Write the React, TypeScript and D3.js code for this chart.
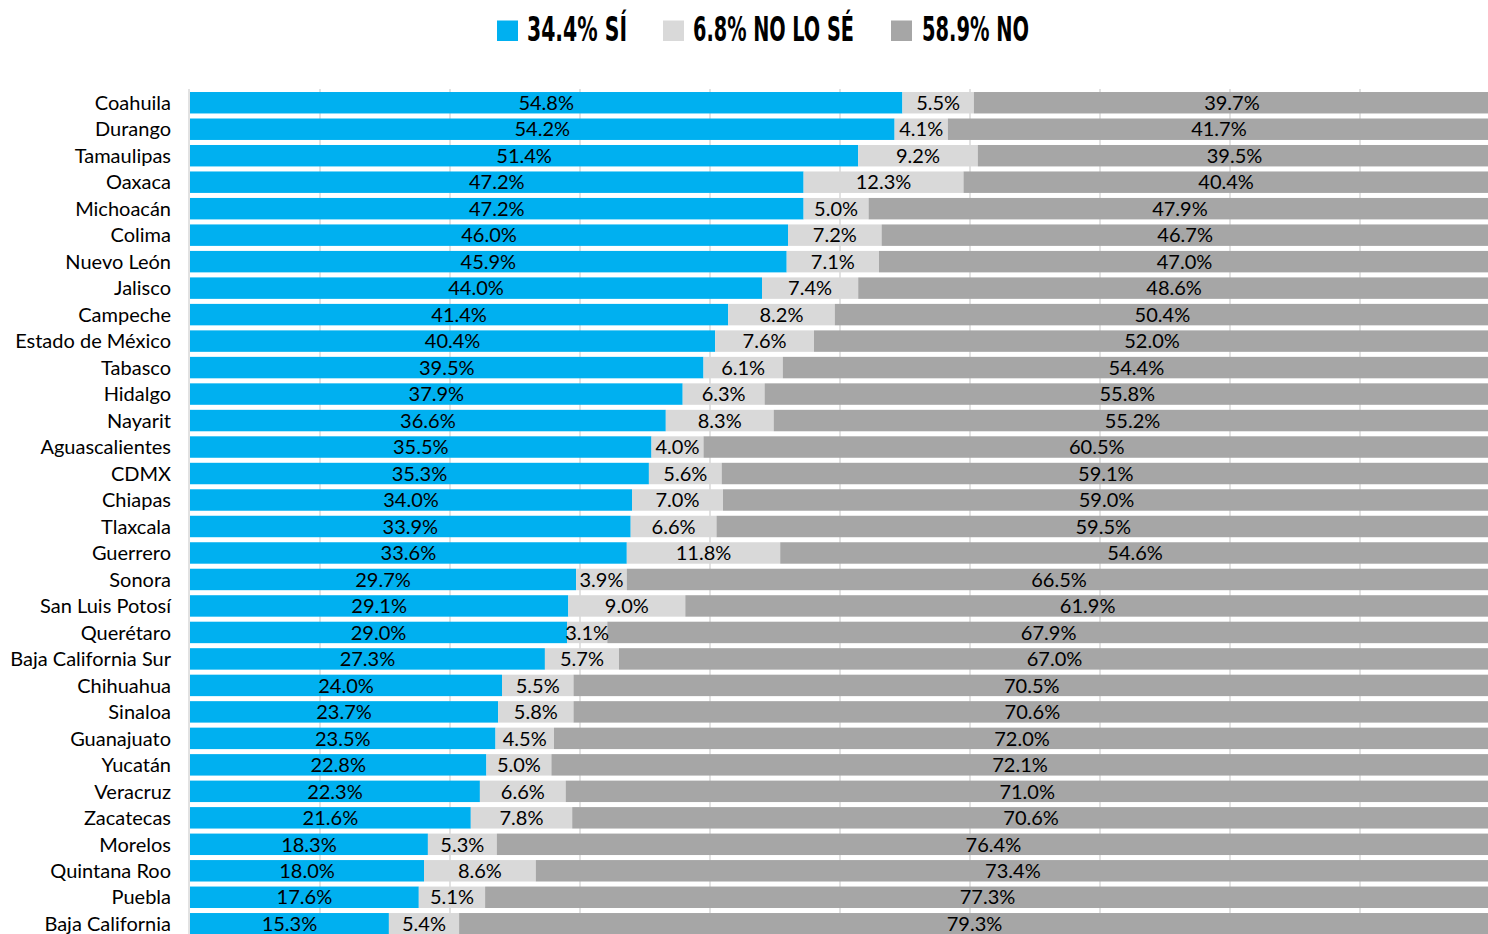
import React from "react";
import * as d3 from "d3";

const states = ["Coahuila","Durango","Tamaulipas","Oaxaca","Michoacán","Colima","Nuevo León","Jalisco","Campeche","Estado de México","Tabasco","Hidalgo","Nayarit","Aguascalientes","CDMX","Chiapas","Tlaxcala","Guerrero","Sonora","San Luis Potosí","Querétaro","Baja California Sur","Chihuahua","Sinaloa","Guanajuato","Yucatán","Veracruz","Zacatecas","Morelos","Quintana Roo","Puebla","Baja California"];
const si = [54.8,54.2,51.4,47.2,47.2,46.0,45.9,44.0,41.4,40.4,39.5,37.9,36.6,35.5,35.3,34.0,33.9,33.6,29.7,29.1,29.0,27.3,24.0,23.7,23.5,22.8,22.3,21.6,18.3,18.0,17.6,15.3];
const noLoSe = [5.5,4.1,9.2,12.3,5.0,7.2,7.1,7.4,8.2,7.6,6.1,6.3,8.3,4.0,5.6,7.0,6.6,11.8,3.9,9.0,3.1,5.7,5.5,5.8,4.5,5.0,6.6,7.8,5.3,8.6,5.1,5.4];
const no = [39.7,41.7,39.5,40.4,47.9,46.7,47.0,48.6,50.4,52.0,54.4,55.8,55.2,60.5,59.1,59.0,59.5,54.6,66.5,61.9,67.9,67.0,70.5,70.6,72.0,72.1,71.0,70.6,76.4,73.4,77.3,79.3];
const seriesKeys = ["si", "noLoSe", "no"];
const legendLabels = ["34.4% SÍ", "6.8% NO LO SÉ", "58.9% NO"];
const xTicks = [0,10,20,30,40,50,60,70,80,90,100];

const colors: Record<string,string> = { si: "#00B0F0", noLoSe: "#D9D9D9", no: "#A6A6A6" };

export default function App() {
  const W = 1488, H = 934;
  const x = d3.scaleLinear().domain([0, 100]).range([190, 1490]);
  const y = d3.scaleBand<string>().domain(states).range([89.5, 937]).paddingInner(0.19).paddingOuter(0.095);
  const rows = states.map((s, i) => ({ state: s, si: si[i], noLoSe: noLoSe[i], no: no[i] }));
  const stacked = d3.stack<any>().keys(seriesKeys)(rows);

  const legendX = [497, 663, 891];
  const legendTextX = [527, 693, 922];
  const legendTextW = [100, 161, 107];
  const font = "Lato, 'Noto Sans', sans-serif";

  return (
    <svg width={W} height={H} style={{ position: "absolute", left: 0, top: 0, background: "#fff" }}>
      {xTicks.map(t => (
        <line key={t} x1={x(t) - (t === 0 ? 1 : 0)} x2={x(t) - (t === 0 ? 1 : 0)} y1={89} y2={H} stroke="#D9D9D9" strokeWidth={1.5} />
      ))}
      {stacked.map(layer => (
        <g key={layer.key} fill={colors[layer.key]}>
          {layer.map((d, i) => (
            <rect key={i} x={x(d[0])} y={y(states[i])!} width={x(d[1]) - x(d[0])} height={y.bandwidth()} />
          ))}
        </g>
      ))}
      {stacked.map(layer => (
        <g key={layer.key + "t"} fontFamily={font} fontSize={20} fill="#000" textAnchor="middle">
          {layer.map((d, i) => (
            <text key={i} x={(x(d[0]) + x(d[1])) / 2} y={y(states[i])! + y.bandwidth() / 2} dy="0.36em">
              {(d[1] - d[0]).toFixed(1)}%
            </text>
          ))}
        </g>
      ))}
      <g fontFamily={font} fontSize={20} fill="#000" textAnchor="end">
        {states.map(s => (
          <text key={s} x={171} y={y(s)! + y.bandwidth() / 2} dy="0.36em">{s}</text>
        ))}
      </g>
      {seriesKeys.map((k, i) => (
        <g key={k}>
          <rect x={legendX[i]} y={20.5} width={21} height={20.5} fill={colors[k]} />
          <text x={legendTextX[i]} y={41} fontFamily="'Liberation Sans Narrow', 'DejaVu Sans Condensed', sans-serif" fontWeight="bold" fontSize={34.5} textLength={legendTextW[i]} lengthAdjust="spacingAndGlyphs" fill="#000">
            {legendLabels[i]}
          </text>
        </g>
      ))}
    </svg>
  );
}
